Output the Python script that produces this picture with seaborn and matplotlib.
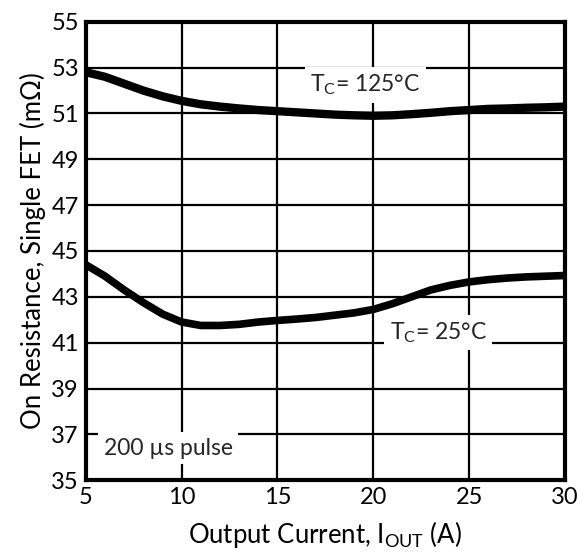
import pandas as pd
import numpy as np
import matplotlib
matplotlib.use('Agg')
import matplotlib.pyplot as plt
import seaborn as sns

# Data
current = [5, 6, 7, 8, 9, 10, 11, 12, 13, 14, 15, 16, 17,
           18, 19, 20, 21, 22, 23, 24, 25, 26, 27, 28, 29, 30]
r_125 = [52.8, 52.6, 52.3, 52.0, 51.75, 51.55, 51.4, 51.3,
         51.22, 51.15, 51.1, 51.05, 51.0, 50.95, 50.92, 50.9,
         50.92, 50.97, 51.03, 51.1, 51.15, 51.2, 51.22, 51.25,
         51.27, 51.3]
r_25 = [44.4, 43.9, 43.3, 42.75, 42.25, 41.9, 41.75, 41.75,
        41.8, 41.9, 41.97, 42.03, 42.1, 42.2, 42.3, 42.45,
        42.7, 43.0, 43.3, 43.5, 43.65, 43.75, 43.82, 43.87,
        43.9, 43.93]
x_ticks = [5, 10, 15, 20, 25, 30]
y_ticks = [35, 37, 39, 41, 43, 45, 47, 49, 51, 53, 55]

sns.set_theme(style='white')
plt.rcParams['font.family'] = ['Lato', 'DejaVu Sans']
plt.rcParams['mathtext.default'] = 'regular'

df = pd.DataFrame({
    'I': current * 2,
    'R': r_125 + r_25,
    'T': ['125'] * len(current) + ['25'] * len(current)})

fig, ax = plt.subplots(figsize=(5.8, 5.59), dpi=100)
fig.subplots_adjust(left=0.148, right=0.974,
                    top=0.961, bottom=0.141)

sns.lineplot(data=df[df['T'] == '125'], x='I', y='R',
             color='black', linewidth=6, ax=ax,
             legend=False)
sns.lineplot(data=df[df['T'] == '25'], x='I', y='R',
             color='black', linewidth=5.5, ax=ax,
             legend=False)

ax.set_xlim(5, 30)
ax.set_ylim(35, 55)
ax.set_xticks(x_ticks)
ax.set_yticks(y_ticks)
ax.grid(True, color='black', linewidth=1.6)
ax.set_axisbelow(True)
for sp in ax.spines.values():
    sp.set_color('black')
    sp.set_linewidth(3)
ax.tick_params(length=0, labelsize=17, pad=5,
               colors='black')

box = dict(facecolor='white', edgecolor='none', pad=4)
ax.text(19.6, 52.25, r'T$_C$= 125°C', fontsize=16.5,
        ha='center', va='center', bbox=box, zorder=5)
ax.text(23.4, 41.45, r'T$_C$= 25°C', fontsize=16.5,
        ha='center', va='center', bbox=box, zorder=5)
ax.text(9.3, 36.4, '200 µs pulse', fontsize=16.5,
        ha='center', va='center', bbox=box, zorder=5)

ax.set_xlabel(r'Output Current, I$_{OUT}$ (A)',
              fontsize=18.5, color='black', labelpad=8)
ax.set_ylabel('On Resistance, Single FET (mΩ)',
              fontsize=18.5, color='black', labelpad=4)

plt.savefig('out.png', dpi=100)
